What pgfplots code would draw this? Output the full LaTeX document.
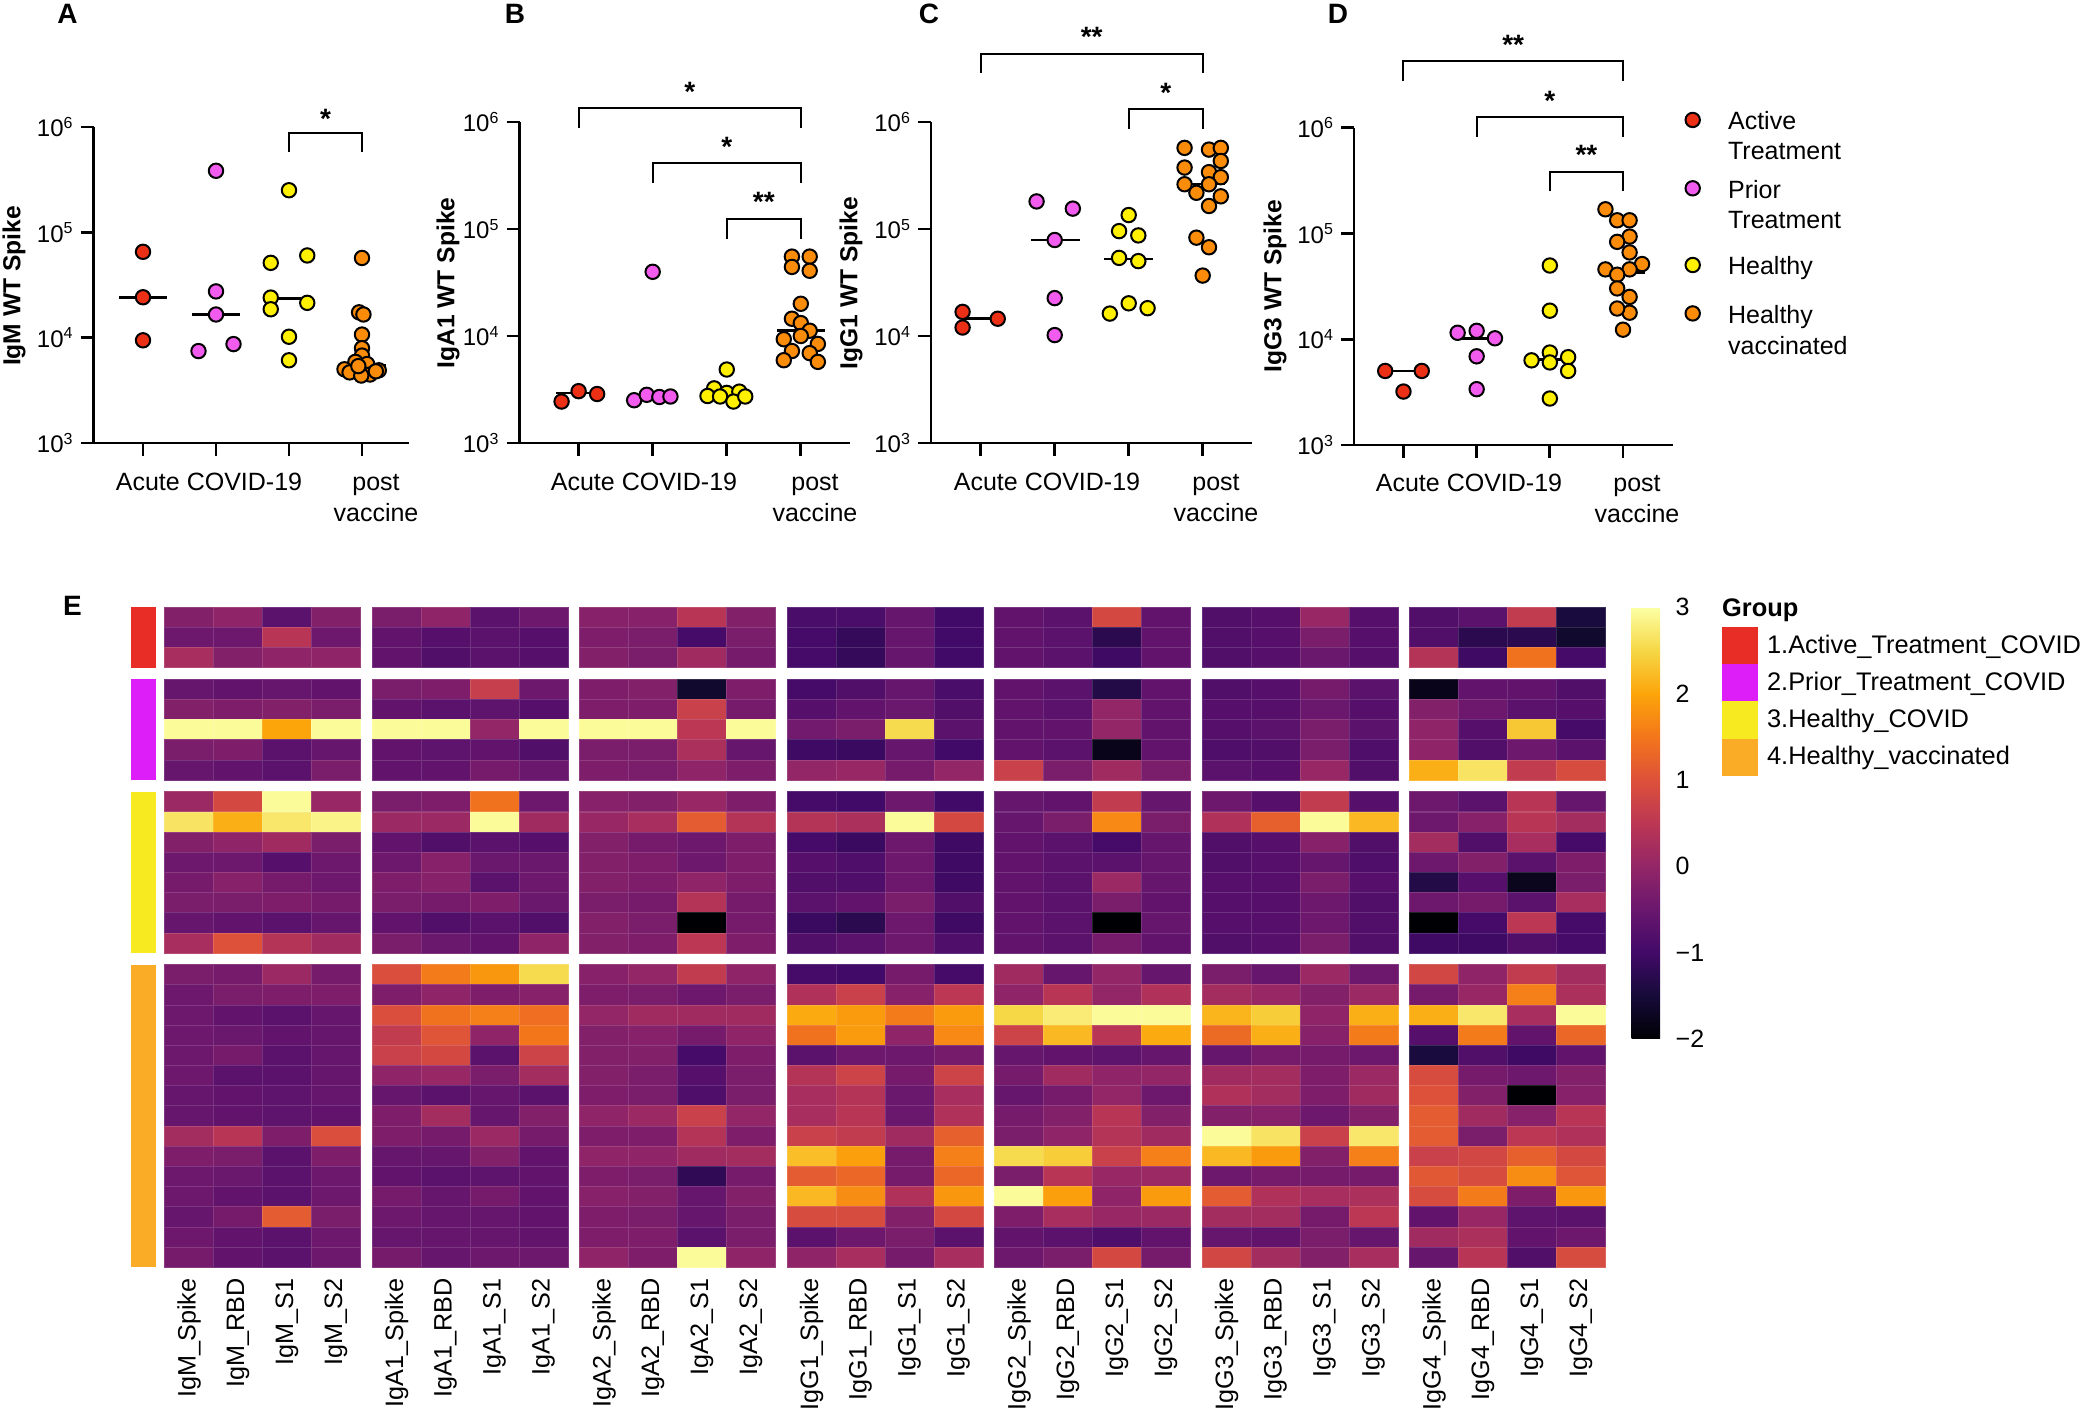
\documentclass[border=0pt]{standalone}
\usepackage{pgfplots}
\pgfplotsset{compat=1.18}
\usepackage{fontspec}
\setmainfont{Liberation Sans}
\setsansfont{Liberation Sans}

\definecolor{cRed}{RGB}{236,48,22}
\definecolor{cPink}{RGB}{242,92,238}
\definecolor{cYel}{RGB}{255,240,0}
\definecolor{cOra}{RGB}{250,140,10}
\definecolor{gRed}{RGB}{232,45,38}
\definecolor{gMag}{RGB}{222,30,248}
\definecolor{gYel}{RGB}{248,234,32}
\definecolor{gOra}{RGB}{250,172,38}

\pgfplotsset{colormap={inferno}{rgb255=(0,0,4) rgb255=(22,11,57) rgb255=(66,10,104) rgb255=(106,23,110) rgb255=(147,38,103) rgb255=(188,55,84) rgb255=(221,81,58) rgb255=(243,118,27) rgb255=(252,165,10) rgb255=(246,215,70) rgb255=(252,255,164)}}

\pgfdeclareplotmark{hmcell}{\pgfpathrectangle{\pgfpoint{-12.2375pt}{-5.0425pt}}{\pgfpoint{24.475pt}{10.085pt}}\pgfusepathqfillstroke}

\tikzset{
  ptR/.style={only marks, mark=*, mark size=3.6pt, mark options={fill=cRed, draw=black, line width=1pt}},
  ptP/.style={only marks, mark=*, mark size=3.6pt, mark options={fill=cPink, draw=black, line width=1pt}},
  ptY/.style={only marks, mark=*, mark size=3.6pt, mark options={fill=cYel, draw=black, line width=1pt}},
  ptO/.style={only marks, mark=*, mark size=3.6pt, mark options={fill=cOra, draw=black, line width=1pt}},
  medline/.style={black, line width=1.3pt},
  brk/.style={line width=1pt, black},
  sig/.style={font=\bfseries\fontsize{14}{14}\selectfont, inner sep=0pt}}

\begin{document}
\begin{tikzpicture}
\path[use as bounding box] (0pt,0pt) rectangle (1042.5pt,-706pt);

% ---------- Panel A
\begin{semilogyaxis}[scale only axis, anchor=south west, ymin=1e3, ymax=1e6,
    axis lines=left, axis line style={-, line width=1.4pt},
    ytick={1e3,1e4,1e5,1e6},
    yticklabels={10\textsuperscript{3},10\textsuperscript{4},10\textsuperscript{5},10\textsuperscript{6}},
    yminorticks=false, xtick={1,2,3,4}, xticklabels={,,,},
    tick align=outside, major tick length=6.5pt, tick style={black, line width=1.4pt},
    tick label style={font=\fontsize{12}{14}\selectfont}, clip=false,
    at={(46.8pt,-221.5pt)}, width=157.7pt, height=158pt, xmin=0.323, xmax=4.644]
\addplot[medline, no marks] coordinates {(0.67,24200) (1.33,24200)};
\addplot[medline, no marks] coordinates {(1.67,16600) (2.33,16600)};
\addplot[medline, no marks] coordinates {(2.67,23400) (3.33,23400)};
\addplot[medline, no marks] coordinates {(3.67,5500) (4.33,5500)};
\addplot[ptR] coordinates {(1,65300) (1,24200) (1,9440)};
\addplot[ptP] coordinates {(2,384000) (2,27500) (2,16600) (1.76,7460) (2.24,8690)};
\addplot[ptY] coordinates {(3,251000) (2.75,51300) (3.25,60300) (2.75,24000) (3.25,21400) (2.75,18600) (3,10200) (3,6100)};
\addplot[ptO] coordinates {(4,57100) (3.96,17400) (4.02,16600) (4,10700) (4,7940) (4,6760) (3.91,5890) (4.07,5620) (3.76,5010) (4.23,4900) (3.83,4680) (4.11,4470) (3.99,4370) (4.19,4790) (3.95,5370)};
\draw[brk] (axis cs:3,5.81e5) |- (axis cs:4,8.79e5) -- (axis cs:4,5.81e5);
\node[sig] at (axis cs:3.5,1.2e6) {*};
\end{semilogyaxis}

% ---------- Panel B
\begin{semilogyaxis}[scale only axis, anchor=south west, ymin=1e3, ymax=1e6,
    axis lines=left, axis line style={-, line width=1.4pt},
    ytick={1e3,1e4,1e5,1e6},
    yticklabels={10\textsuperscript{3},10\textsuperscript{4},10\textsuperscript{5},10\textsuperscript{6}},
    yminorticks=false, xtick={1,2,3,4}, xticklabels={,,,},
    tick align=outside, major tick length=6.5pt, tick style={black, line width=1.4pt},
    tick label style={font=\fontsize{12}{14}\selectfont}, clip=false,
    at={(259.75pt,-221.5pt)}, width=165.25pt, height=160.5pt, xmin=0.202, xmax=4.664]
\addplot[medline, no marks] coordinates {(0.7,2940) (1.3,2940)};
\addplot[medline, no marks] coordinates {(1.68,2750) (2.32,2750)};
\addplot[medline, no marks] coordinates {(2.68,2900) (3.32,2900)};
\addplot[medline, no marks] coordinates {(3.68,11200) (4.33,11200)};
\addplot[ptR] coordinates {(0.77,2440) (1,3050) (1.25,2870)};
\addplot[ptP] coordinates {(2,39800) (1.75,2510) (1.92,2820) (2.09,2690) (2.24,2720)};
\addplot[ptY] coordinates {(3,4860) (2.83,3240) (3,2940) (3.17,3020) (2.74,2750) (2.91,2720) (3.09,2440) (3.25,2720)};
\addplot[ptO] coordinates {(3.88,55200) (4.12,55200) (3.88,44200) (4.12,40700) (4,20000) (3.88,14500) (4,13200) (4.12,11200) (3.77,9330) (4,10000) (4.23,8430) (3.88,7240) (4.12,6920) (3.77,5940) (4.23,5730)};
\draw[brk] (axis cs:1,8.81e5) |- (axis cs:4,1.35e6) -- (axis cs:4,8.81e5);
\node[sig] at (axis cs:2.5,1.92e6) {*};
\draw[brk] (axis cs:2,2.69e5) |- (axis cs:4,4.10e5) -- (axis cs:4,2.69e5);
\node[sig] at (axis cs:3,5.8e5) {*};
\draw[brk] (axis cs:3,8.13e4) |- (axis cs:4,1.24e5) -- (axis cs:4,8.13e4);
\node[sig] at (axis cs:3.5,1.78e5) {**};
\end{semilogyaxis}

% ---------- Panel C
\begin{semilogyaxis}[scale only axis, anchor=south west, ymin=1e3, ymax=1e6,
    axis lines=left, axis line style={-, line width=1.4pt},
    ytick={1e3,1e4,1e5,1e6},
    yticklabels={10\textsuperscript{3},10\textsuperscript{4},10\textsuperscript{5},10\textsuperscript{6}},
    yminorticks=false, xtick={1,2,3,4}, xticklabels={,,,},
    tick align=outside, major tick length=6.5pt, tick style={black, line width=1.4pt},
    tick label style={font=\fontsize{12}{14}\selectfont}, clip=false,
    at={(465.5pt,-221.5pt)}, width=160.3pt, height=160.5pt, xmin=0.328, xmax=4.661]
\addplot[medline, no marks] coordinates {(0.755,14500) (1.23,14500)};
\addplot[medline, no marks] coordinates {(1.68,78900) (2.34,78900)};
\addplot[medline, no marks] coordinates {(2.66,52500) (3.33,52500)};
\addplot[medline, no marks] coordinates {(3.7,263000) (4.3,263000)};
\addplot[ptR] coordinates {(0.755,16800) (0.755,12000) (1.23,14500)};
\addplot[ptP] coordinates {(1.755,181000) (2.245,155000) (2,78900) (2,22600) (2,10200)};
\addplot[ptY] coordinates {(3,135000) (2.87,95500) (3.13,87100) (2.87,53700) (3.13,50100) (3,20200) (2.745,16200) (3.255,18200)};
\addplot[ptO] coordinates {(3.755,573000) (4.085,552000) (4.245,573000) (4.245,432000) (3.755,375000) (4.085,340000) (4.245,305000) (3.755,262000) (4.085,262000) (3.915,218000) (4.245,202000) (4.085,164000) (3.915,83000) (4.085,67500) (4,36700)};
\draw[brk] (axis cs:1,2.89e6) |- (axis cs:4,4.36e6) -- (axis cs:4,2.89e6);
\node[sig] at (axis cs:2.5,6.3e6) {**};
\draw[brk] (axis cs:3,8.61e5) |- (axis cs:4,1.31e6) -- (axis cs:4,8.61e5);
\node[sig] at (axis cs:3.5,1.87e6) {*};
\end{semilogyaxis}

% ---------- Panel D
\begin{semilogyaxis}[scale only axis, anchor=south west, ymin=1e3, ymax=1e6,
    axis lines=left, axis line style={-, line width=1.4pt},
    ytick={1e3,1e4,1e5,1e6},
    yticklabels={10\textsuperscript{3},10\textsuperscript{4},10\textsuperscript{5},10\textsuperscript{6}},
    yminorticks=false, xtick={1,2,3,4}, xticklabels={,,,},
    tick align=outside, major tick length=6.5pt, tick style={black, line width=1.4pt},
    tick label style={font=\fontsize{12}{14}\selectfont}, clip=false,
    at={(677pt,-222.5pt)}, width=159.5pt, height=158.7pt, xmin=0.324, xmax=4.683,
    legend style={at={(1.007,1.051)}, anchor=north west, draw=none, fill=none, inner sep=0pt,
      nodes={inner sep=0pt}, font=\fontsize{12.5}{15.35}\selectfont, cells={anchor=west},
      row sep=0pt, column sep=14.1pt},
    legend image post style={yshift=1.2pt},
    legend cell align=left]
\addplot[medline, no marks, forget plot] coordinates {(0.75,5010) (1.25,5010)};
\addplot[medline, no marks, forget plot] coordinates {(1.74,10200) (2.33,10200)};
\addplot[medline, no marks, forget plot] coordinates {(2.7,6460) (3.32,6460)};
\addplot[medline, no marks, forget plot] coordinates {(3.7,42700) (4.3,42700)};
\addplot[ptR, forget plot] coordinates {(0.75,5010) (1.25,5010) (1,3200)};
\addplot[ptP, forget plot] coordinates {(1.74,11500) (2,12000) (2.25,10200) (2,6890) (2,3370)};
\addplot[ptY, forget plot] coordinates {(3,49700) (3,18600) (3,7480) (2.75,6310) (3.25,6760) (3,6030) (3.25,5010) (3,2750)};
\addplot[ptO, forget plot] coordinates {(3.76,169000) (3.92,133000) (4.09,133000) (4.09,93300) (3.92,83200) (4.09,66100) (4.26,51300) (3.76,45700) (4.09,45700) (3.92,40700) (3.92,30200) (4.09,25100) (4.09,17800) (3.92,19500) (4,12300)};
\draw[brk] (axis cs:1,2.75e6) |- (axis cs:4,4.23e6) -- (axis cs:4,2.75e6);
\node[sig] at (axis cs:2.5,6.1e6) {**};
\draw[brk] (axis cs:2,8.22e5) |- (axis cs:4,1.25e6) -- (axis cs:4,8.22e5);
\node[sig] at (axis cs:3,1.8e6) {*};
\draw[brk] (axis cs:3,2.49e5) |- (axis cs:4,3.82e5) -- (axis cs:4,2.49e5);
\node[sig] at (axis cs:3.5,5.5e5) {**};
\addlegendimage{ptR}\addlegendentry{Active}
\addlegendimage{empty legend}\addlegendentry{\rule{0pt}{3.35pt}}
\addlegendimage{empty legend}\addlegendentry{Treatment}
\addlegendimage{empty legend}\addlegendentry{\rule{0pt}{7.15pt}}
\addlegendimage{ptP}\addlegendentry{Prior}
\addlegendimage{empty legend}\addlegendentry{\rule{0pt}{3.35pt}}
\addlegendimage{empty legend}\addlegendentry{Treatment}
\addlegendimage{empty legend}\addlegendentry{\rule{0pt}{11.35pt}}
\addlegendimage{ptY}\addlegendentry{Healthy}
\addlegendimage{empty legend}\addlegendentry{\rule{0pt}{12.15pt}}
\addlegendimage{ptO}\addlegendentry{Healthy}
\addlegendimage{empty legend}\addlegendentry{\rule{0pt}{3.35pt}}
\addlegendimage{empty legend}\addlegendentry{vaccinated}
\end{semilogyaxis}

% ---------- Panel E heatmap
\begin{axis}[name=hm, at={(82.3pt,-633.65pt)}, anchor=south west, scale only axis,
  width=720.4pt, height=330pt, xmin=-0.5, xmax=28.934, ymin=-32.21, ymax=0.5,
  axis lines=none, xtick=\empty, ytick=\empty, clip=false,
  colormap name=inferno, point meta min=-2, point meta max=3,
  colorbar, colorbar style={at={(parent axis.north east)}, anchor=north west, xshift=4.55pt,
    scale only axis, width=14.5pt, height=215.85pt, ymin=-2, ymax=3,
    ytick={-2,-1,0,1,2,3}, yticklabels={−2,−1,0,1,2,3},
    axis line style={draw=none}, major tick length=0pt,
    yticklabel style={font=\fontsize{12.5}{15}\selectfont, xshift=4pt}}]
\addplot[fill=gRed, draw=none, forget plot] coordinates {(-1.1925,0.5) (-0.6777,0.5) (-0.6777,-2.5) (-1.1925,-2.5)} -- cycle;
\addplot[fill=gMag, draw=none, forget plot] coordinates {(-1.1925,-3.07) (-0.6777,-3.07) (-0.6777,-8.07) (-1.1925,-8.07)} -- cycle;
\addplot[fill=gYel, draw=none, forget plot] coordinates {(-1.1925,-8.64) (-0.6777,-8.64) (-0.6777,-16.64) (-1.1925,-16.64)} -- cycle;
\addplot[fill=gOra, draw=none, forget plot] coordinates {(-1.1925,-17.21) (-0.6777,-17.21) (-0.6777,-32.21) (-1.1925,-32.21)} -- cycle;
\addplot[fill=gRed, draw=none, forget plot] coordinates {(31.31,-0.4916) (32.06,-0.4916) (32.06,-2.311) (31.31,-2.311)} -- cycle;
\addplot[fill=gMag, draw=none, forget plot] coordinates {(31.31,-2.311) (32.06,-2.311) (32.06,-4.160) (31.31,-4.160)} -- cycle;
\addplot[fill=gYel, draw=none, forget plot] coordinates {(31.31,-4.160) (32.06,-4.160) (32.06,-6.015) (31.31,-6.015)} -- cycle;
\addplot[fill=gOra, draw=none, forget plot] coordinates {(31.31,-6.015) (32.06,-6.015) (32.06,-7.864) (31.31,-7.864)} -- cycle;
\addplot[scatter, only marks, mark=hmcell, line width=0.4pt, point meta=explicit,
  scatter/use mapped color={draw=mapped color!86!white, fill=mapped color}]
 table[row sep=\\, meta=z,
   x expr={\coordindex-28*floor((\coordindex+0.5)/28)+0.239*floor((\coordindex-28*floor((\coordindex+0.5)/28)+0.5)/4)},
   y expr={-(floor((\coordindex+0.5)/28)+0.57*((\coordindex>83.5)+(\coordindex>223.5)+(\coordindex>447.5)))}]
{z\\
-0.2\\ -0.05\\ -0.7\\ -0.2\\ -0.3\\ -0.05\\ -0.7\\ -0.45\\ -0.15\\ -0.15\\ 0.45\\ -0.2\\ -0.9\\ -0.9\\ -0.55\\ -1.0\\ -0.6\\ -0.7\\ 0.85\\ -0.6\\ -0.8\\ -0.75\\ 0.05\\ -0.75\\ -0.8\\ -0.7\\ 0.6\\ -1.45\\
-0.45\\ -0.45\\ 0.45\\ -0.45\\ -0.6\\ -0.75\\ -0.7\\ -0.75\\ -0.25\\ -0.3\\ -0.95\\ -0.3\\ -0.95\\ -1.15\\ -0.55\\ -1.0\\ -0.6\\ -0.7\\ -1.25\\ -0.6\\ -0.8\\ -0.75\\ -0.3\\ -0.75\\ -0.8\\ -1.25\\ -1.25\\ -1.6\\
0.25\\ -0.2\\ -0.05\\ -0.05\\ -0.6\\ -0.8\\ -0.7\\ -0.75\\ -0.2\\ -0.3\\ 0.15\\ -0.35\\ -0.95\\ -1.15\\ -0.55\\ -1.0\\ -0.6\\ -0.7\\ -1.05\\ -0.6\\ -0.8\\ -0.75\\ -0.5\\ -0.75\\ 0.4\\ -1.05\\ 1.45\\ -0.95\\
-0.55\\ -0.6\\ -0.55\\ -0.6\\ -0.3\\ -0.25\\ 0.65\\ -0.45\\ -0.25\\ -0.2\\ -1.6\\ -0.25\\ -0.95\\ -0.8\\ -0.55\\ -0.9\\ -0.6\\ -0.7\\ -1.35\\ -0.6\\ -0.8\\ -0.75\\ -0.35\\ -0.7\\ -1.8\\ -0.6\\ -0.6\\ -0.8\\
-0.2\\ -0.25\\ -0.2\\ -0.3\\ -0.6\\ -0.7\\ -0.65\\ -0.75\\ -0.25\\ -0.25\\ 0.7\\ -0.35\\ -0.75\\ -0.6\\ -0.5\\ -0.8\\ -0.6\\ -0.7\\ 0.0\\ -0.6\\ -0.75\\ -0.75\\ -0.5\\ -0.75\\ -0.2\\ -0.45\\ -0.7\\ -0.75\\
2.95\\ 2.95\\ 2.0\\ 2.95\\ 2.95\\ 2.95\\ 0.0\\ 2.95\\ 2.95\\ 2.95\\ 0.5\\ 2.95\\ -0.4\\ -0.3\\ 2.55\\ -0.7\\ -0.6\\ -0.6\\ 0.0\\ -0.6\\ -0.75\\ -0.7\\ -0.3\\ -0.7\\ -0.05\\ -0.75\\ 2.35\\ -0.95\\
-0.3\\ -0.25\\ -0.7\\ -0.55\\ -0.6\\ -0.65\\ -0.6\\ -0.8\\ -0.3\\ -0.3\\ 0.3\\ -0.55\\ -1.05\\ -1.1\\ -0.55\\ -1.0\\ -0.6\\ -0.7\\ -1.8\\ -0.6\\ -0.85\\ -0.8\\ -0.3\\ -0.85\\ -0.05\\ -0.8\\ -0.45\\ -0.7\\
-0.55\\ -0.6\\ -0.7\\ -0.3\\ -0.6\\ -0.6\\ -0.35\\ -0.5\\ -0.25\\ -0.3\\ -0.05\\ -0.25\\ 0.0\\ 0.05\\ -0.35\\ 0.0\\ 0.7\\ -0.3\\ 0.15\\ -0.3\\ -0.7\\ -0.75\\ 0.05\\ -0.8\\ 2.1\\ 2.65\\ 0.6\\ 0.9\\
0.1\\ 0.85\\ 2.95\\ 0.05\\ -0.3\\ -0.25\\ 1.45\\ -0.45\\ -0.15\\ -0.2\\ 0.05\\ -0.25\\ -0.95\\ -1.0\\ -0.45\\ -1.0\\ -0.55\\ -0.6\\ 0.6\\ -0.55\\ -0.45\\ -0.75\\ 0.6\\ -0.75\\ -0.45\\ -0.7\\ 0.45\\ -0.55\\
2.65\\ 2.1\\ 2.7\\ 2.85\\ 0.1\\ 0.1\\ 2.95\\ 0.15\\ 0.05\\ 0.25\\ 1.15\\ 0.4\\ 0.4\\ 0.3\\ 2.95\\ 0.85\\ -0.55\\ -0.3\\ 1.7\\ -0.3\\ 0.35\\ 1.2\\ 2.95\\ 2.2\\ -0.45\\ -0.15\\ 0.45\\ 0.2\\
-0.2\\ -0.05\\ 0.15\\ -0.3\\ -0.6\\ -0.8\\ -0.7\\ -0.75\\ -0.2\\ -0.35\\ -0.45\\ -0.25\\ -0.95\\ -1.1\\ -0.45\\ -1.05\\ -0.6\\ -0.7\\ -0.95\\ -0.55\\ -0.8\\ -0.75\\ -0.15\\ -0.8\\ 0.2\\ -0.8\\ 0.25\\ -0.95\\
-0.45\\ -0.45\\ -0.75\\ -0.45\\ -0.45\\ -0.15\\ -0.5\\ -0.5\\ -0.2\\ -0.25\\ -0.45\\ -0.25\\ -0.75\\ -0.85\\ -0.45\\ -1.05\\ -0.6\\ -0.7\\ -0.7\\ -0.55\\ -0.8\\ -0.75\\ -0.55\\ -0.85\\ -0.45\\ -0.2\\ -0.7\\ -0.25\\
-0.35\\ -0.15\\ -0.35\\ -0.45\\ -0.25\\ -0.15\\ -0.7\\ -0.45\\ -0.2\\ -0.25\\ -0.05\\ -0.25\\ -0.8\\ -0.85\\ -0.45\\ -1.05\\ -0.6\\ -0.7\\ 0.1\\ -0.55\\ -0.75\\ -0.75\\ -0.3\\ -0.75\\ -1.35\\ -0.75\\ -1.75\\ -0.3\\
-0.3\\ -0.3\\ -0.25\\ -0.35\\ -0.3\\ -0.35\\ -0.25\\ -0.5\\ -0.3\\ -0.35\\ 0.4\\ -0.35\\ -0.7\\ -0.6\\ -0.3\\ -0.8\\ -0.6\\ -0.7\\ -0.3\\ -0.6\\ -0.75\\ -0.75\\ -0.45\\ -0.8\\ -0.45\\ -0.35\\ -0.7\\ 0.25\\
-0.55\\ -0.6\\ -0.7\\ -0.55\\ -0.6\\ -0.8\\ -0.7\\ -0.8\\ -0.2\\ -0.3\\ -2.0\\ -0.35\\ -1.1\\ -1.25\\ -0.45\\ -1.05\\ -0.6\\ -0.7\\ -2.0\\ -0.55\\ -0.75\\ -0.75\\ -0.45\\ -0.8\\ -2.0\\ -0.95\\ 0.5\\ -0.95\\
0.25\\ 1.0\\ 0.4\\ 0.15\\ -0.3\\ -0.5\\ -0.6\\ -0.05\\ -0.2\\ -0.25\\ 0.5\\ -0.25\\ -0.8\\ -0.7\\ -0.45\\ -0.85\\ -0.6\\ -0.7\\ -0.35\\ -0.6\\ -0.8\\ -0.75\\ -0.3\\ -0.8\\ -1.05\\ -1.05\\ -0.8\\ -0.95\\
-0.3\\ -0.35\\ 0.1\\ -0.35\\ 0.95\\ 1.55\\ 1.85\\ 2.55\\ -0.15\\ 0.0\\ 0.6\\ -0.05\\ -0.95\\ -1.0\\ -0.35\\ -0.95\\ 0.15\\ -0.55\\ 0.0\\ -0.55\\ -0.3\\ -0.55\\ 0.1\\ -0.45\\ 0.8\\ -0.05\\ 0.6\\ 0.2\\
-0.45\\ -0.3\\ -0.25\\ -0.25\\ -0.25\\ -0.05\\ -0.25\\ -0.15\\ -0.25\\ -0.3\\ -0.45\\ -0.3\\ 0.35\\ 0.7\\ -0.15\\ 0.5\\ -0.05\\ 0.45\\ 0.0\\ 0.35\\ 0.2\\ 0.05\\ -0.2\\ 0.1\\ -0.35\\ 0.05\\ 1.6\\ 0.3\\
-0.45\\ -0.6\\ -0.7\\ -0.55\\ 0.95\\ 1.45\\ 1.6\\ 1.4\\ 0.0\\ 0.15\\ 0.15\\ 0.15\\ 2.05\\ 1.9\\ 1.55\\ 1.9\\ 2.5\\ 2.75\\ 2.95\\ 2.95\\ 2.15\\ 2.4\\ -0.05\\ 2.1\\ 2.1\\ 2.7\\ 0.25\\ 2.95\\
-0.45\\ -0.5\\ -0.6\\ -0.55\\ 0.6\\ 1.05\\ -0.05\\ 1.5\\ -0.2\\ -0.15\\ -0.35\\ -0.05\\ 1.45\\ 1.9\\ -0.05\\ 1.7\\ 0.75\\ 2.2\\ 0.45\\ 2.05\\ 1.35\\ 2.1\\ -0.15\\ 1.55\\ -0.75\\ 1.55\\ -0.6\\ 1.3\\
-0.45\\ -0.35\\ -0.7\\ -0.55\\ 0.7\\ 0.85\\ -0.7\\ 0.75\\ -0.2\\ -0.2\\ -0.95\\ -0.25\\ -0.7\\ -0.45\\ -0.45\\ -0.35\\ -0.55\\ -0.6\\ -0.65\\ -0.55\\ -0.55\\ -0.35\\ -0.35\\ -0.45\\ -1.45\\ -0.8\\ -1.05\\ -0.6\\
-0.45\\ -0.7\\ -0.7\\ -0.55\\ -0.05\\ 0.05\\ -0.3\\ 0.2\\ -0.2\\ -0.3\\ -0.75\\ -0.3\\ 0.4\\ 0.75\\ -0.35\\ 0.75\\ -0.35\\ 0.15\\ -0.05\\ 0.0\\ 0.15\\ 0.2\\ -0.25\\ 0.1\\ 0.9\\ -0.35\\ -0.45\\ -0.2\\
-0.55\\ -0.6\\ -0.65\\ -0.55\\ -0.55\\ -0.7\\ -0.55\\ -0.7\\ -0.25\\ -0.3\\ -0.85\\ -0.3\\ 0.25\\ 0.4\\ -0.5\\ 0.25\\ -0.55\\ -0.35\\ 0.0\\ -0.45\\ 0.35\\ 0.2\\ -0.25\\ 0.15\\ 1.0\\ -0.2\\ -2.0\\ -0.15\\
-0.55\\ -0.6\\ -0.65\\ -0.6\\ -0.25\\ 0.2\\ -0.55\\ -0.2\\ -0.05\\ 0.1\\ 0.7\\ 0.0\\ 0.25\\ 0.45\\ -0.5\\ 0.35\\ -0.35\\ -0.2\\ 0.45\\ -0.2\\ -0.2\\ -0.15\\ -0.45\\ -0.2\\ 1.15\\ 0.15\\ -0.15\\ 0.45\\
0.2\\ 0.45\\ -0.25\\ 0.95\\ -0.25\\ -0.35\\ 0.1\\ -0.35\\ -0.25\\ -0.25\\ 0.4\\ -0.25\\ 0.7\\ 0.6\\ 0.15\\ 1.2\\ -0.3\\ -0.05\\ 0.4\\ 0.15\\ 2.95\\ 2.65\\ 0.7\\ 2.7\\ 1.15\\ -0.3\\ 0.5\\ 0.35\\
-0.25\\ -0.3\\ -0.7\\ -0.25\\ -0.55\\ -0.55\\ -0.2\\ -0.6\\ -0.05\\ -0.05\\ 0.15\\ 0.2\\ 2.25\\ 1.95\\ -0.35\\ 1.6\\ 2.55\\ 2.4\\ 0.7\\ 1.6\\ 2.2\\ 1.9\\ -0.2\\ 1.6\\ 0.7\\ 0.8\\ 1.2\\ 0.85\\
-0.45\\ -0.5\\ -0.7\\ -0.45\\ -0.6\\ -0.7\\ -0.65\\ -0.6\\ -0.25\\ -0.3\\ -1.2\\ -0.35\\ 1.15\\ 1.3\\ -0.35\\ 1.3\\ -0.3\\ 0.45\\ 0.05\\ 0.1\\ -0.45\\ -0.35\\ -0.35\\ -0.35\\ 1.1\\ 0.9\\ 1.75\\ 1.05\\
-0.45\\ -0.6\\ -0.7\\ -0.45\\ -0.35\\ -0.55\\ -0.35\\ -0.6\\ -0.15\\ -0.2\\ -0.55\\ -0.2\\ 2.2\\ 1.75\\ 0.35\\ 1.85\\ 2.95\\ 1.95\\ -0.05\\ 1.9\\ 1.15\\ 0.35\\ 0.25\\ 0.3\\ 0.9\\ 1.55\\ -0.25\\ 1.85\\
-0.55\\ -0.35\\ 1.15\\ -0.3\\ -0.45\\ -0.55\\ -0.55\\ -0.6\\ -0.25\\ -0.3\\ -0.55\\ -0.3\\ 0.9\\ 0.9\\ -0.2\\ 0.85\\ -0.25\\ 0.25\\ 0.05\\ 0.1\\ 0.2\\ 0.2\\ -0.35\\ 0.5\\ -0.6\\ 0.05\\ -0.65\\ -0.7\\
-0.45\\ -0.6\\ -0.7\\ -0.45\\ -0.55\\ -0.55\\ -0.55\\ -0.6\\ -0.25\\ -0.25\\ -0.7\\ -0.3\\ -0.7\\ -0.45\\ -0.3\\ -0.7\\ -0.6\\ -0.7\\ -0.85\\ -0.6\\ -0.55\\ -0.6\\ -0.3\\ -0.55\\ 0.15\\ 0.3\\ -0.6\\ -0.45\\
-0.35\\ -0.6\\ -0.7\\ -0.45\\ -0.35\\ -0.55\\ -0.45\\ -0.45\\ -0.05\\ -0.25\\ 2.95\\ -0.05\\ -0.05\\ 0.25\\ -0.35\\ 0.25\\ -0.45\\ -0.3\\ 0.85\\ -0.35\\ 0.8\\ 0.2\\ -0.2\\ 0.25\\ -0.55\\ 0.45\\ -0.8\\ 0.9\\
};
\end{axis}

% ---------- text labels (pixel coordinates)
\begin{scope}[x=0.5pt,y=-0.5pt]
\tikzset{lab/.style={font=\bfseries\fontsize{14}{14}\selectfont},
  cat/.style={font=\fontsize{12.5}{15}\selectfont, anchor=base},
  ylab/.style={font=\bfseries\fontsize{12.3}{14}\selectfont, rotate=90},
  coln/.style={font=\fontsize{12.6}{14}\selectfont, rotate=90, anchor=east, inner sep=0pt},
  grp/.style={font=\fontsize{12.7}{15}\selectfont, anchor=west, inner sep=0pt}}
\node[lab] at (67.5,14) {A};
\node[lab] at (515,14) {B};
\node[lab] at (929,14) {C};
\node[lab] at (1338,14) {D};
\node[lab] at (72.5,606) {E};
\node[ylab] at (14,286) {IgM WT Spike};
\node[ylab] at (448,283) {IgA1 WT Spike};
\node[ylab] at (851,283) {IgG1 WT Spike};
\node[ylab] at (1275,286) {IgG3 WT Spike};
\node[cat] at (209,490) {Acute COVID-19};
\node[cat] at (376,490) {post};
\node[cat] at (376,521) {vaccine};
\node[cat] at (644,490) {Acute COVID-19};
\node[cat] at (815,490) {post};
\node[cat] at (815,521) {vaccine};
\node[cat] at (1047,490) {Acute COVID-19};
\node[cat] at (1216,490) {post};
\node[cat] at (1216,521) {vaccine};
\node[cat] at (1469,492) {Acute COVID-19};
\node[cat] at (1637,492) {post};
\node[cat] at (1637,523) {vaccine};
\node[coln] at (189.1,1278) {IgM\_Spike};
\node[coln] at (238.0,1278) {IgM\_RBD};
\node[coln] at (287.0,1278) {IgM\_S1};
\node[coln] at (335.9,1278) {IgM\_S2};
\node[coln] at (396.6,1278) {IgA1\_Spike};
\node[coln] at (445.5,1278) {IgA1\_RBD};
\node[coln] at (494.5,1278) {IgA1\_S1};
\node[coln] at (543.4,1278) {IgA1\_S2};
\node[coln] at (604.1,1278) {IgA2\_Spike};
\node[coln] at (653.0,1278) {IgA2\_RBD};
\node[coln] at (702.0,1278) {IgA2\_S1};
\node[coln] at (750.9,1278) {IgA2\_S2};
\node[coln] at (811.6,1278) {IgG1\_Spike};
\node[coln] at (860.5,1278) {IgG1\_RBD};
\node[coln] at (909.5,1278) {IgG1\_S1};
\node[coln] at (958.4,1278) {IgG1\_S2};
\node[coln] at (1019.1,1278) {IgG2\_Spike};
\node[coln] at (1068.0,1278) {IgG2\_RBD};
\node[coln] at (1117.0,1278) {IgG2\_S1};
\node[coln] at (1165.9,1278) {IgG2\_S2};
\node[coln] at (1226.6,1278) {IgG3\_Spike};
\node[coln] at (1275.5,1278) {IgG3\_RBD};
\node[coln] at (1324.5,1278) {IgG3\_S1};
\node[coln] at (1373.4,1278) {IgG3\_S2};
\node[coln] at (1434.1,1278) {IgG4\_Spike};
\node[coln] at (1483.0,1278) {IgG4\_RBD};
\node[coln] at (1532.0,1278) {IgG4\_S1};
\node[coln] at (1580.9,1278) {IgG4\_S2};
\node[grp, font=\bfseries\fontsize{12.7}{15}\selectfont] at (1721.7,610) {Group};
\node[grp] at (1766.7,646.7) {1.Active\_Treatment\_COVID};
\node[grp] at (1766.7,684) {2.Prior\_Treatment\_COVID};
\node[grp] at (1766.7,721) {3.Healthy\_COVID};
\node[grp] at (1766.7,758) {4.Healthy\_vaccinated};
\end{scope}
\end{tikzpicture}
\end{document}
